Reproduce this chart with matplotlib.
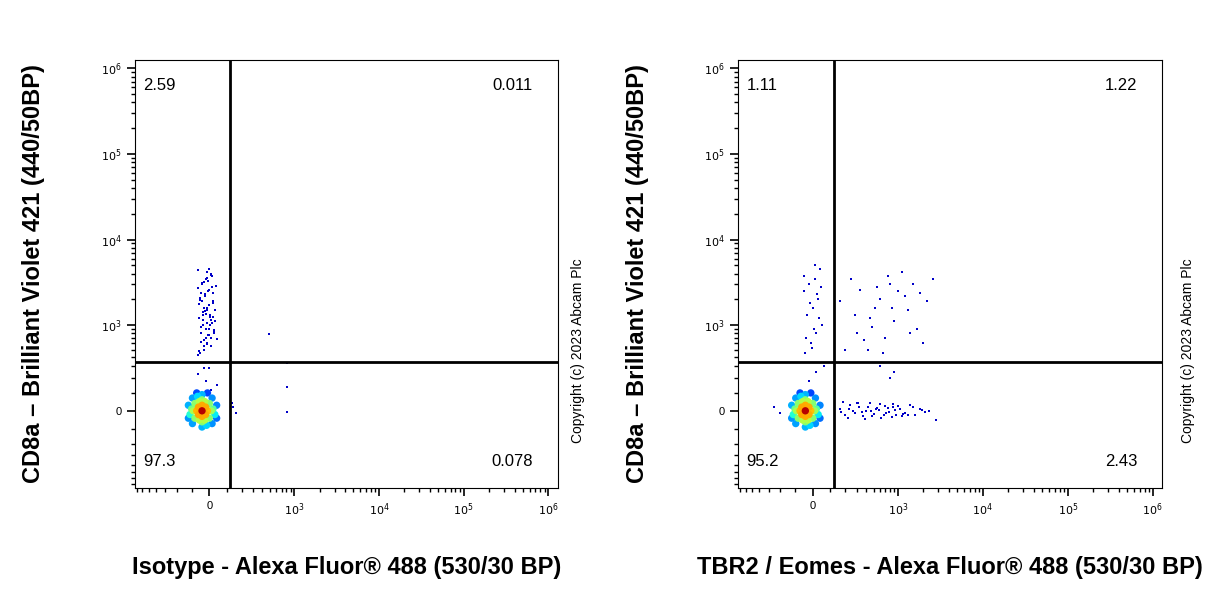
import numpy as np
import matplotlib
matplotlib.use("Agg")
import matplotlib.pyplot as plt
from matplotlib.ticker import FixedLocator, NullFormatter

plt.rcParams['font.family'] = ['Liberation Sans', 'DejaVu Sans']

W = 200.0
def fwd(v): return np.arcsinh(np.asarray(v, float) / W) / np.log(10)
def inv(u): return W * np.sinh(np.asarray(u, float) * np.log(10))

# ---- data ----
quad_left = ["2.59", "0.011", "97.3", "0.078"]
quad_right = ["1.11", "1.22", "95.2", "2.43"]
gate_x = 120
gate_y = 340

blob_x = [-40, -70, -10, -40, -40, -60, -20, -60, -20, -90, 10, -40, -40, -80, 0, -80, 0,
          -100, 20, -55, -25, -55, -25, -110, 30, -40, -40, -95, 15, -95, 15, -65, -15,
          -120, 40, -70, -10, -120, 40]
blob_y = [0, 0, 0, 30, -30, 20, 20, -20, -20, 0, 0, 60, -60, 40, 40, -40, -40,
          10, 10, 50, 50, -50, -50, -20, -20, 90, -90, 70, -70, -70, 70, 80, -80,
          30, 30, 100, 100, -40, -40]

l_cd8_x = [-60, -30, -10, 10, -45, -20, 5, 30, -55, -35, -15, 0, 20, -50, -25, -5, 15, -40, -20, 10,
           -60, -30, 0, 25, -45, -15, 5, -35, -10, 20, -50, -25, 0, -40, -5, 15, -30, -55, 10, -20,
           -50, 0, -30, 20, -10, -40, 30, -20, 10, -60, -35, 5, -15, 25, -45,
           -25, 15, -55, 35, -5, -45, 20, -30, 0, -15, 40, -50, 10, -35, 25]
l_cd8_y = [420, 500, 600, 700, 800, 900, 1000, 1100, 1200, 1300, 1500, 1700, 1900, 2100, 2300, 2500, 2800, 3100, 3500, 4000,
           4400, 650, 750, 850, 950, 1050, 1250, 1400, 1600, 1800, 2000, 2200, 2600, 3000, 3300, 3800, 550, 480, 1150, 1350,
           450, 900, 1600, 2400, 3600, 1900, 1500, 700, 560, 2700, 1000, 1300, 4200, 800, 620,
           1450, 1050, 1750, 2900, 760, 2350, 1250, 3200, 4500, 580, 680, 1950, 3900, 1150, 860]
l_other_x = [-30, 0, -20, 40, 480, 820, 820, 820, 140, 160, 130, -60, 10]
l_other_y = [280, 280, 180, 150, 780, 330, 140, -5, 20, -10, 40, 230, 120]

r_cd8_x = [-40, -10, 20, 50, -30, 0, 30, -50, -20, 10, 40, -35, 5, 35, -15, 25, -45, 15, -5, 45]
r_cd8_y = [450, 600, 800, 1000, 1300, 1600, 2000, 2500, 3000, 3500, 4500, 700, 900, 1200, 1800, 2300, 3800, 5000, 520, 2800]
r_dp_x = [200, 300, 450, 600, 800, 1000, 1300, 1700, 2200, 250, 380, 520, 700, 900, 1200, 1500, 2000, 160, 330, 650,
          1100, 2600, 420, 850, 560, 1400, 280, 750, 1800, 480]
r_dp_y = [500, 800, 1200, 2000, 3000, 2500, 1500, 900, 1900, 3500, 650, 1600, 700, 1100, 2200, 3000, 600, 1900, 2600, 450,
          4200, 3500, 500, 1600, 2800, 800, 1300, 3800, 2400, 950]
r_eo_x = [160, 200, 240, 280, 320, 360, 400, 450, 500, 560, 620, 700, 780, 860, 950, 1050, 1200, 1400, 1600, 1900,
          2300, 2800, 180, 220, 260, 300, 350, 420, 480, 540, 600, 680, 760, 840, 920, 1000, 1150, 1300, 1500, 1800,
          2100, 170, 230, 310, 390, 470, 580, 720, 880, 1100]
r_eo_y = [10, -20, 30, -10, 20, -30, 0, 40, -15, 15, -40, 25, -5, 35, -25, 10, -10, 30, -20, 5,
          0, -50, 50, -40, 0, 40, -5, 20, -30, 10, 35, -20, 15, -35, 5, 25, -15, -25, 20, 10,
          -5, -5, 10, 45, -45, 0, 5, -10, 20, -30]
r_other_x = [-250, -200, 600, 800, 900, 20, -20, 60]
r_other_y = [20, -10, 300, 200, 250, 250, 180, 300]

xticks_major = [0, 1e3, 1e4, 1e5, 1e6]
yticks_major = [0, 1e3, 1e4, 1e5, 1e6]
ticklabels = ["0", r"$10^3$", r"$10^4$", r"$10^5$", r"$10^6$"]

def minor_ticks():
    t = list(np.arange(-900, 1000, 100))
    for d in [1e3, 1e4, 1e5]:
        t += [d * k for k in range(2, 10)]
    return t

fig = plt.figure(figsize=(12.16, 6.0), dpi=100)

def panel(rect, xlabel, quads, groups, copy_x):
    ax = fig.add_axes(rect)
    ax.set_xscale("function", functions=(fwd, inv))
    ax.set_yscale("function", functions=(fwd, inv))
    ax.set_xlim(-740, 1.3e6)
    ax.set_ylim(-780, 1.25e6)
    bx = np.array(blob_x); by = np.array(blob_y)
    d = np.hypot(fwd(bx) - fwd(-40), (fwd(by) - fwd(0)) * 0.9)
    order = np.argsort(-d)
    cols = plt.cm.jet(np.clip(1 - d / 0.25, 0, 1) * 0.95)
    for g in groups:
        ax.scatter(g[0], g[1], s=3, c="#0000c8", marker="s", linewidths=0)
    ax.scatter(bx[order], by[order], s=28, c=cols[order], marker="o", linewidths=0)
    ax.axvline(gate_x, color="black", lw=2)
    ax.axhline(gate_y, color="black", lw=2)
    ax.xaxis.set_major_locator(FixedLocator(xticks_major))
    ax.yaxis.set_major_locator(FixedLocator(yticks_major))
    ax.set_xticklabels(ticklabels, fontsize=8)
    ax.set_yticklabels(ticklabels, fontsize=8)
    ax.xaxis.set_minor_locator(FixedLocator(minor_ticks()))
    ax.yaxis.set_minor_locator(FixedLocator(minor_ticks()))
    ax.xaxis.set_minor_formatter(NullFormatter())
    ax.yaxis.set_minor_formatter(NullFormatter())
    ax.tick_params(which="major", length=6, width=1.2)
    ax.tick_params(which="minor", length=3, width=1)
    ax.set_xlabel(xlabel, fontsize=17, fontweight="bold", labelpad=28)
    ax.set_ylabel("CD8a – Brilliant Violet 421 (440/50BP)", fontsize=17, fontweight="bold", labelpad=40)
    kw = dict(transform=ax.transAxes, fontsize=12)
    ax.text(0.02, 0.93, quads[0], ha="left", **kw)
    ax.text(0.94, 0.93, quads[1], ha="right", **kw)
    ax.text(0.02, 0.05, quads[2], ha="left", **kw)
    ax.text(0.94, 0.05, quads[3], ha="right", **kw)
    fig.text(copy_x, 0.415, "Copyright (c) 2023 Abcam Plc", rotation=90, fontsize=10, ha="center", va="center")
    return ax

panel([0.111, 0.187, 0.348, 0.713], "Isotype - Alexa Fluor® 488 (530/30 BP)", quad_left,
      [(l_cd8_x, l_cd8_y), (l_other_x, l_other_y)], 0.475)
panel([0.607, 0.187, 0.349, 0.713], "TBR2 / Eomes - Alexa Fluor® 488 (530/30 BP)", quad_right,
      [(r_cd8_x, r_cd8_y), (r_dp_x, r_dp_y), (r_eo_x, r_eo_y), (r_other_x, r_other_y)], 0.977)

fig.savefig("out.png", dpi=100)
